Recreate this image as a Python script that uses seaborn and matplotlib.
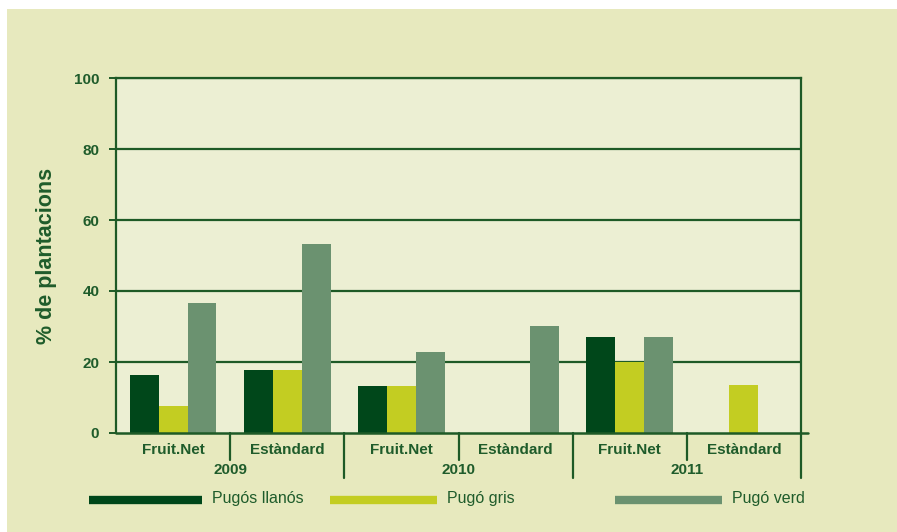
import matplotlib
matplotlib.use("Agg")
import matplotlib.pyplot as plt
import seaborn as sns
import pandas as pd
from matplotlib.lines import Line2D
from matplotlib.patches import Rectangle
import matplotlib.transforms as mtransforms

# ---- data ----
years = ["2009", "2010", "2011"]
methods = ["Fruit.Net", "Estàndard"]
series = ["Pugós llanós", "Pugó gris", "Pugó verd"]
pugos_llanos = [16.3, 17.7, 13.3, 0.0, 27.0, 0.0]
pugo_gris = [7.7, 17.7, 13.3, 0.0, 20.1, 13.5]
pugo_verd = [36.6, 53.2, 22.8, 30.1, 27.0, 0.0]
y_ticks = [0, 20, 40, 60, 80, 100]
y_label = "% de plantacions"

cats = [f"{y} {m}" for y in years for m in methods]
rows = []
for name, vals in zip(series, [pugos_llanos, pugo_gris, pugo_verd]):
    for c, v in zip(cats, vals):
        rows.append({"cat": c, "serie": name, "val": v})
df = pd.DataFrame(rows)

# ---- styling ----
W, H = 897, 532
c_dark = "#00471A"
c_yel = "#C3CD22"
c_grn = "#6B9270"
c_line = "#1E5A26"
c_text = "#1F5C2B"
c_bg = "#E7E9BE"
c_axbg = "#ECEFD3"
palette = [c_dark, c_yel, c_grn]

sns.set_style("white")
plt.rcParams["font.family"] = ["Liberation Sans", "DejaVu Sans"]

fig = plt.figure(figsize=(W / 100, H / 100), dpi=100)
fig.patch.set_facecolor("white")
fig.add_artist(Rectangle((7 / W, 0), 1 - 7 / W, 1 - 9 / H, transform=fig.transFigure,
                         facecolor=c_bg, edgecolor="none", zorder=0))

left, right, top, bottom = 116, 801, 78, 433
ax = fig.add_axes([left / W, (H - bottom) / H, (right - left) / W, (bottom - top) / H])
ax.set_facecolor(c_axbg)

sns.barplot(data=df, x="cat", y="val", hue="serie", order=cats, hue_order=series,
            palette=palette, width=0.76, saturation=1, ax=ax, legend=False,
            edgecolor="none", linewidth=0, errorbar=None)

ax.set_ylim(0, 100)
ax.set_xlim(-0.5, len(cats) - 0.5)
ax.set_yticks(y_ticks)
ax.set_yticklabels([str(t) for t in y_ticks], fontsize=11, fontweight="bold", color=c_text)
for t in y_ticks[1:]:
    ax.axhline(t, color=c_line, lw=1.6, zorder=0.5)
ax.tick_params(axis="y", direction="out", length=5, width=1.4, color=c_line, pad=7, left=True)
ax.set_xticks([])
ax.set_xlabel("")
ax.set_ylabel(y_label, fontsize=15.5, fontweight="bold", color=c_text, labelpad=12)

for s in ["left", "right", "top"]:
    ax.spines[s].set_color(c_line)
    ax.spines[s].set_linewidth(1.6)
ax.spines["bottom"].set_visible(False)

trans = mtransforms.blended_transform_factory(ax.transData, ax.transAxes)
hpx = bottom - top
# bottom axis line extending beyond right
ax.plot([-0.5, len(cats) - 0.5 + 7 / (right - left) * len(cats)], [0, 0], transform=trans,
        color=c_line, lw=1.8, clip_on=False, zorder=5)

for i, c in enumerate(cats):
    y, m = c.split(" ", 1)
    ax.text(i, -17 / hpx, m, transform=trans, ha="center", va="center",
            fontsize=11, fontweight="bold", color=c_text)
for j, y in enumerate(years):
    ax.text(2 * j + 0.5, -37 / hpx, y, transform=trans, ha="center", va="center",
            fontsize=11, fontweight="bold", color=c_text)
for k in range(1, len(cats) + 1):
    x = k - 0.5
    end = -45 / hpx if k % 2 == 0 else -27 / hpx
    ax.plot([x, x], [0, end], transform=trans, color=c_line, lw=1.6, clip_on=False)

# legend
leg_items = [(89, 202, 212, c_dark), (330, 437, 447, c_yel), (615, 722, 732, c_grn)]
ly = 500
for (x0, x1, xt, col), name in zip(leg_items, series):
    fig.add_artist(Line2D([x0 / W, x1 / W], [1 - ly / H, 1 - ly / H], transform=fig.transFigure,
                          color=col, lw=6, solid_capstyle="butt"))
    fig.text(xt / W, 1 - (ly - 1) / H, name, ha="left", va="center", fontsize=11.5,
             color=c_text)

fig.savefig("out.png", dpi=100, facecolor=fig.get_facecolor())
